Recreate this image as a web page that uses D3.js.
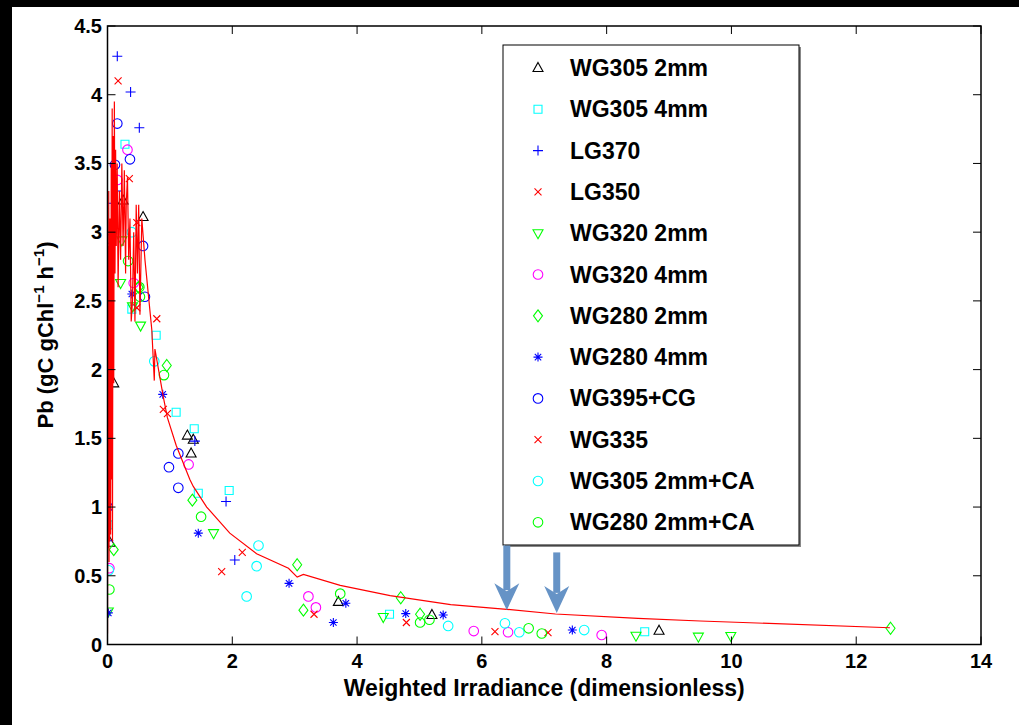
<!DOCTYPE html>
<html>
<head>
<meta charset="utf-8">
<script src="https://cdn.jsdelivr.net/npm/d3@7"></script>
<style>
  body { margin: 0; background: #000; }
  text { font-family: "Liberation Sans", Arial, sans-serif; font-weight: bold; }
</style>
</head>
<body>
<div class="canva"></div>
<script>
// data, [irradiance, Pb]
const wg305_2mm = [[0.10,1.90],[0.25,3.23],[0.57,3.11],[1.28,1.52],[1.375,1.49],[1.34,1.39],[0.04,0.74],[3.70,0.31],[5.20,0.215],[8.84,0.10]];
const wg305_4mm = [[0.28,3.64],[0.39,2.44],[0.78,2.25],[1.10,1.69],[1.39,1.57],[1.455,1.10],[1.95,1.12],[0.01,0.87],[4.52,0.22],[8.61,0.093]];
const lg370 = [[0.157,4.28],[0.37,4.02],[0.51,3.76],[0.067,3.21],[0.136,3.30],[1.40,1.48],[1.90,1.04],[2.04,0.615],[0.013,0.755]];
const lg350 = [[0.17,4.10],[0.35,3.39],[0.47,3.07],[0.47,2.45],[0.79,2.37],[0.895,1.71]];
const wg320_2mm = [[0.23,2.94],[0.21,2.63],[0.40,2.46],[0.53,2.32],[1.70,0.81],[0.013,0.24],[4.42,0.20],[8.47,0.064],[9.47,0.057],[9.99,0.062]];
const wg320_4mm = [[0.32,3.60],[0.16,3.38],[0.42,2.63],[1.30,1.31],[0.03,0.555],[3.22,0.35],[3.34,0.27],[5.87,0.098],[6.42,0.089],[7.92,0.069]];
const wg280_2mm = [[0.50,2.60],[0.95,2.03],[1.36,1.05],[0.10,0.69],[3.04,0.58],[3.14,0.25],[4.70,0.34],[5.01,0.22],[12.55,0.118]];
const wg280_4mm = [[0.39,2.55],[0.885,1.82],[1.455,0.81],[2.91,0.445],[3.62,0.16],[3.82,0.30],[0.013,0.23],[4.78,0.225],[5.38,0.215],[7.45,0.105]];
const wg395_cg = [[0.157,3.79],[0.36,3.53],[0.12,3.49],[0.05,2.95],[0.57,2.90],[0.60,2.53],[1.135,1.39],[0.985,1.29],[1.135,1.14],[0.003,1.00]];
const wg335 = [[0.96,1.68],[1.83,0.53],[2.16,0.67],[3.31,0.22],[4.79,0.16],[6.21,0.093],[7.06,0.086]];
const wg305_2mm_ca = [[0.39,3.00],[0.75,2.06],[2.42,0.72],[2.39,0.57],[2.23,0.35],[5.46,0.135],[6.37,0.154],[6.60,0.089],[7.64,0.105],[0.02,0.54]];
const wg280_2mm_ca = [[0.33,2.79],[0.51,2.60],[0.52,2.53],[0.905,1.96],[1.50,0.93],[0.03,0.40],[3.73,0.37],[5.01,0.16],[5.16,0.18],[6.75,0.118],[6.96,0.08]];

// model fit (red line), in x order as plotted
const fitLine = [[0.000,0.08],[0.002,0.9],[0.005,2.0],[0.008,0.7],[0.012,2.9],[0.015,1.1],[0.02,3.3],[0.025,0.6],
  [0.03,2.6],[0.035,0.75],[0.04,3.1],[0.05,0.8],[0.06,3.5],[0.065,1.2],[0.075,3.9],[0.08,0.75],[0.09,3.7],
  [0.10,1.9],[0.11,3.95],[0.12,2.7],[0.13,3.6],[0.14,2.9],[0.155,3.5],[0.17,2.6],[0.19,3.3],[0.21,2.8],
  [0.23,3.5],[0.25,2.9],[0.27,3.45],[0.29,2.7],[0.30,3.2],[0.32,3.4],[0.34,2.8],[0.36,3.1],[0.38,2.35],
  [0.40,2.5],[0.42,3.0],[0.44,2.35],[0.46,3.2],[0.48,2.7],[0.50,3.2],[0.52,2.4],[0.55,3.1],[0.60,2.8],
  [0.71,2.29],[0.75,1.92],[0.76,2.15],[0.895,1.80],[0.96,1.65],[1.10,1.45],[1.32,1.20],[1.375,1.15],
  [1.59,1.00],[1.96,0.81],[2.39,0.66],[2.90,0.555],[3.04,0.49],[3.14,0.51],[3.73,0.43],[4.53,0.355],
  [5.5,0.29],[6.40,0.256],[7.18,0.222],[8.5,0.19],[9.50,0.171],[12.54,0.122]];

const seriesNames = ["WG305 2mm","WG305 4mm","LG370","LG350","WG320 2mm","WG320 4mm",
                     "WG280 2mm","WG280 4mm","WG395+CG","WG335","WG305 2mm+CA","WG280 2mm+CA"];
const seriesData = [wg305_2mm, wg305_4mm, lg370, lg350, wg320_2mm, wg320_4mm,
                    wg280_2mm, wg280_4mm, wg395_cg, wg335, wg305_2mm_ca, wg280_2mm_ca];
const seriesColors = ["#000","#00ffff","#0000ff","#ff0000","#00ff00","#ff00ff",
                      "#00ff00","#0000ff","#0000ff","#ff0000","#00ffff","#00ff00"];
const seriesMarkers = ["tri","square","plus","cross","tridown","circle",
                       "diamond","star","circle","cross","circle","circle"];

const xTicks = [0,2,4,6,8,10,12,14];
const yTicks = [0,0.5,1,1.5,2,2.5,3,3.5,4,4.5];
const yTickLabels = ["0","0.5","1","1.5","2","2.5","3","3.5","4","4.5"];

// arrows pointing at the fit line
const arrowX = [6.4, 7.2];
const arrowTip = [0.25, 0.23];
const arrowTop = [0.72, 0.67];

const W = 1019, H = 725;
const svg = d3.select(".canva").append("svg")
              .attr("width", W).attr("height", H)
              .style("display", "block");

svg.append("rect").attr("width", W).attr("height", H).attr("fill", "#000");
svg.append("rect").attr("x", 12).attr("y", 7).attr("width", W - 12).attr("height", H - 7).attr("fill", "#fff");

const x = d3.scaleLinear().domain([0, 14]).range([107.5, 981]);
const y = d3.scaleLinear().domain([0, 4.5]).range([644.5, 26]);

const markerPath = {
  tri: "M0,-5.5L5,3.5L-5,3.5Z",
  tridown: "M0,5.5L5,-3.5L-5,-3.5Z",
  square: "M-4,-4h8v8h-8Z",
  plus: "M-5,0H5M0,-5V5",
  cross: "M-3.5,-3.5L3.5,3.5M-3.5,3.5L3.5,-3.5",
  diamond: "M0,-6L4.5,0L0,6L-4.5,0Z",
  star: "M-4.5,0H4.5M0,-4.5V4.5M-3.2,-3.2L3.2,3.2M-3.2,3.2L3.2,-3.2",
  circle: "M4.8,0A4.8,4.8 0 1 1 -4.8,0A4.8,4.8 0 1 1 4.8,0Z"
};

// clip to axes
svg.append("clipPath").attr("id", "clip")
   .append("rect").attr("x", x(0)).attr("y", y(4.5))
   .attr("width", x(14) - x(0)).attr("height", y(0) - y(4.5));

const plot = svg.append("g").attr("clip-path", "url(#clip)");

// scatter points
seriesData.forEach(function(data, i) {
  plot.selectAll(null)
      .data(data)
      .enter()
      .append("path")
      .attr("d", markerPath[seriesMarkers[i]])
      .attr("transform", d => `translate(${x(d[0])},${y(d[1])})`)
      .attr("fill", "none")
      .attr("stroke", seriesColors[i])
      .attr("stroke-width", 1.1);
});

// fitted line
const line = d3.line().x(d => x(d[0])).y(d => y(d[1]));
plot.append("path")
    .datum(fitLine)
    .attr("d", line)
    .attr("fill", "none")
    .attr("stroke", "#ff0000")
    .attr("stroke-width", 1.2);

// axes frame and ticks (inward, mirrored)
const axes = svg.append("g");
axes.append("rect")
    .attr("x", x(0)).attr("y", y(4.5))
    .attr("width", x(14) - x(0)).attr("height", y(0) - y(4.5))
    .attr("fill", "none").attr("stroke", "#000").attr("stroke-width", 1.5);

xTicks.forEach(function(t) {
  axes.append("line").attr("x1", x(t)).attr("x2", x(t)).attr("y1", y(0)).attr("y2", y(0) - 8)
      .attr("stroke", "#000").attr("stroke-width", 1);
  axes.append("line").attr("x1", x(t)).attr("x2", x(t)).attr("y1", y(4.5)).attr("y2", y(4.5) + 8)
      .attr("stroke", "#000").attr("stroke-width", 1);
  axes.append("text").attr("x", x(t)).attr("y", 668)
      .attr("text-anchor", "middle").style("font-size", "20px").text(t);
});

yTicks.forEach(function(t, i) {
  axes.append("line").attr("x1", x(0)).attr("x2", x(0) + 8).attr("y1", y(t)).attr("y2", y(t))
      .attr("stroke", "#000").attr("stroke-width", 1);
  axes.append("line").attr("x1", x(14)).attr("x2", x(14) - 8).attr("y1", y(t)).attr("y2", y(t))
      .attr("stroke", "#000").attr("stroke-width", 1);
  axes.append("text").attr("x", 102).attr("y", y(t) + 7)
      .attr("text-anchor", "end").style("font-size", "20px").text(yTickLabels[i]);
});

// axis titles
svg.append("text").attr("x", (x(0) + x(14)) / 2).attr("y", 696)
   .attr("text-anchor", "middle").style("font-size", "23px")
   .text("Weighted Irradiance (dimensionless)");

const yl = svg.append("text")
   .attr("transform", "translate(53,335) rotate(-90)")
   .attr("text-anchor", "middle").style("font-size", "22px");
yl.append("tspan").text("Pb (gC gChl");
yl.append("tspan").attr("dy", -9).style("font-size", "15px").text("\u22121");
yl.append("tspan").attr("dy", 9).text(" h");
yl.append("tspan").attr("dy", -9).style("font-size", "15px").text("\u22121");
yl.append("tspan").attr("dy", 9).text(")");

// legend
const legend = svg.append("g");
legend.append("rect").attr("x", 505).attr("y", 47).attr("width", 296).attr("height", 500)
      .attr("fill", "#888");
legend.append("rect").attr("x", 503).attr("y", 45).attr("width", 296).attr("height", 500)
      .attr("fill", "#fff").attr("stroke", "#000").attr("stroke-width", 1);

seriesNames.forEach(function(name, i) {
  const cy = 68 + i * 41.3;
  legend.append("path")
        .attr("d", markerPath[seriesMarkers[i]])
        .attr("transform", `translate(538,${cy})`)
        .attr("fill", "none").attr("stroke", seriesColors[i]).attr("stroke-width", 1.1);
  legend.append("text").attr("x", 570).attr("y", cy + 8)
        .style("font-size", "23px").text(name);
});

// blue arrows
arrowX.forEach(function(ax, i) {
  const px = x(ax), tip = y(arrowTip[i]), top = y(arrowTop[i]);
  const g = svg.append("g").attr("fill", "#6693c6");
  g.append("rect").attr("x", px - 3.5).attr("y", top).attr("width", 7).attr("height", tip - top - 20);
  g.append("path")
   .attr("d", `M${px - 12.5},${tip - 27}L${px},${tip}L${px + 12.5},${tip - 27}L${px},${tip - 19}Z`);
});
</script>
</body>
</html>
